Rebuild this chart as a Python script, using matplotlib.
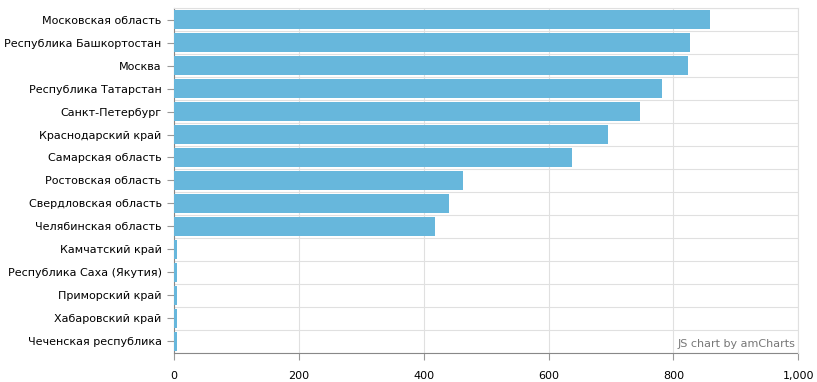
from matplotlib import pyplot as plt
from matplotlib.ticker import FuncFormatter, MultipleLocator
import numpy as np

regions = ['Московская область', 'Республика Башкортостан', 'Москва',
           'Республика Татарстан', 'Санкт-Петербург', 'Краснодарский край',
           'Самарская область', 'Ростовская область', 'Свердловская область',
           'Челябинская область', 'Камчатский край', 'Республика Саха (Якутия)',
           'Приморский край', 'Хабаровский край', 'Чеченская республика']
values = [858, 826, 823, 782, 747, 695, 637, 463, 440, 418, 4, 4, 4, 4, 4]

plt.rcParams['font.family'] = ['DejaVu Sans']

fig = plt.figure(figsize=(8.17, 3.82), dpi=100)
ax = fig.add_axes([0.213, 0.076, 0.764, 0.903])

y = np.arange(len(regions))
ax.barh(y, values, height=0.83, color='#67b7dc', zorder=3)
ax.set_ylim(len(regions) - 0.5, -0.5)
ax.set_xlim(0, 1000)

ax.set_yticks(y)
ax.set_yticklabels(regions, fontsize=8, color='#000000')
ax.set_yticks(np.arange(-0.5, len(regions), 1), minor=True)
ax.xaxis.set_major_locator(MultipleLocator(200))
ax.xaxis.set_major_formatter(FuncFormatter(lambda v, p: '{:,.0f}'.format(v)))
ax.tick_params(axis='x', labelsize=8, length=5, color='#999999', pad=8)
ax.tick_params(axis='y', which='major', length=5, color='#999999', pad=4)
ax.tick_params(axis='y', which='minor', length=0)

ax.grid(axis='x', which='major', color='#e0e0e0', linewidth=0.8, zorder=0)
ax.grid(axis='y', which='minor', color='#e0e0e0', linewidth=0.8, zorder=0)
ax.set_axisbelow(True)

for s in ['top', 'right']:
    ax.spines[s].set_color('#e0e0e0')
for s in ['left', 'bottom']:
    ax.spines[s].set_color('#888888')
    ax.spines[s].set_zorder(1)

ax.text(0.995, 0.012, 'JS chart by amCharts', transform=ax.transAxes,
        ha='right', va='bottom', fontsize=8, color='#777777')

plt.savefig('out.png', dpi=100)
